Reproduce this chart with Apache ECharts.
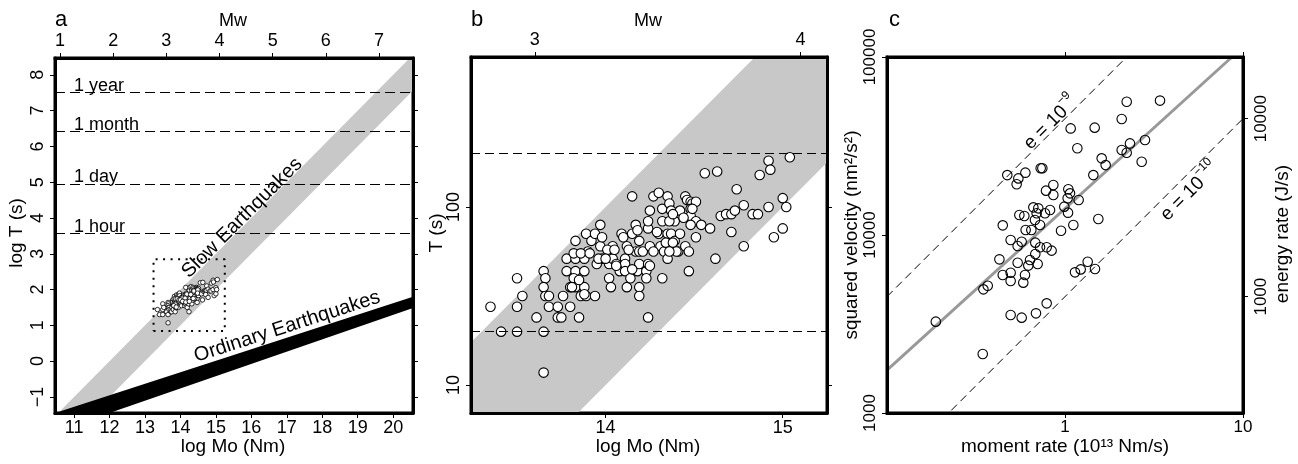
<!DOCTYPE html>
<html><head><meta charset="utf-8">
<script src="https://cdn.jsdelivr.net/npm/echarts@6/dist/echarts.min.js"></script>
<style>html,body{margin:0;padding:0;background:#fff}#c{width:1298px;height:464px}</style>
</head><body><div id="c"></div>
<script>
// ---------- data ----------
// panel b events (also the small cluster in panel a): log10 moment (Nm), log10 duration (s)
const slowLogMo = [13.35,13.41,13.50,13.50,13.50,13.53,13.61,13.65,13.65,13.65,13.66,13.65,13.66,13.68,13.68,13.73,13.73,13.75,13.76,13.80,13.85,13.78,13.78,13.80,13.83,13.83,13.83,13.82,13.83,13.86,13.88,13.88,13.88,13.89,13.94,13.89,13.92,13.94,13.97,13.97,13.98,13.98,13.95,13.90,13.82,13.86,13.85,13.81,13.88,
14.02,14.02,14.03,14.04,14.04,14.06,14.08,14.09,14.10,14.11,14.11,14.11,14.12,14.12,14.14,14.15,14.15,14.17,14.17,14.18,14.19,14.19,14.19,14.19,14.19,14.21,14.23,14.23,14.24,14.24,14.25,14.24,14.24,14.25,14.27,14.30,14.31,14.30,14.32,14.32,14.32,14.33,14.35,14.35,14.36,14.35,14.37,14.37,14.39,14.39,14.41,14.42,14.42,14.45,14.46,14.48,14.49,14.51,14.48,14.48,14.45,14.47,14.47,14.51,14.51,14.54,14.59,
14.18,14.36,14.44,14.01,14.05,14.13,14.27,14.34,14.38,14.40,13.91,13.96,14.00,14.06,14.15,14.25,14.36,14.38,14.49,14.48,14.29,
14.56,14.63,14.62,14.65,14.68,14.71,14.73,14.71,14.74,14.78,14.78,14.83,14.86,14.87,14.92,14.93,14.92,14.95,15.00,15.00,15.02,15.04];
const slowLogT = [1.44,1.30,1.30,1.44,1.60,1.50,1.38,1.30,1.07,1.64,1.60,1.55,1.50,1.50,1.44,1.44,1.38,1.38,1.50,1.44,1.38,1.71,1.64,1.55,1.81,1.71,1.64,1.60,1.55,1.50,1.71,1.64,1.55,1.50,1.50,1.85,1.81,1.85,1.90,1.78,1.83,1.71,1.68,1.75,1.74,1.74,1.59,1.55,1.51,
1.68,1.60,1.55,1.78,1.71,1.68,1.64,1.85,1.83,1.71,1.68,1.64,1.78,1.55,1.60,2.06,1.85,1.90,1.75,1.64,1.81,1.68,1.55,1.50,1.75,1.75,1.64,1.60,1.38,1.68,1.78,1.88,1.92,1.98,2.06,2.08,1.78,1.85,1.60,1.92,1.99,1.75,2.06,1.85,2.02,1.71,1.98,1.85,1.92,1.81,1.75,1.98,1.85,2.06,2.04,2.03,2.02,2.03,1.99,1.95,1.78,1.75,1.64,1.92,1.83,1.90,1.88,
1.87,1.92,1.94,1.76,1.76,1.76,1.75,1.80,1.80,1.75,1.74,1.71,1.71,1.67,1.65,1.67,1.75,1.96,1.99,1.90,1.86,
2.19,2.20,1.71,1.95,1.96,1.96,1.98,1.86,2.10,2.01,1.78,1.96,1.96,2.18,2.26,2.21,2.00,1.83,2.05,1.88,2.00,2.28];

// panel c: moment rate (1e13 Nm/s) and squared velocity (nm^2/s^2)
const rateMoment = [0.188,0.345,0.348,0.368,0.428,0.447,0.447,0.474,0.495,0.495,0.495,0.495,0.535,0.547,0.542,0.542,0.554,0.591,0.571,0.571,0.583,0.596,0.599,0.601,0.622,0.636,0.647,0.664,0.678,0.681,0.681,0.687,0.693,0.702,0.708,0.724,0.724,0.730,0.746,0.782,0.789,0.789,0.772,0.824,0.841,0.860,0.860,0.950,0.991,1.035,1.04,1.044,1.067,1.076,1.114,1.138,1.173,1.193,1.225,1.341,1.443,1.468,1.474,1.539,1.607,1.692,2.082,2.082,2.221,2.221,2.318,2.696,2.815,3.418];
const rateSqVel = [3260,2145,4950,5190,7300,11330,5960,21700,9370,3555,6140,5520,19270,20800,8670,6990,12950,12790,9170,3434,5400,5960,22400,10670,6730,7240,10670,14300,12140,9060,7820,3630,13240,6870,14120,11380,8530,23700,23700,17750,8530,4130,13240,13820,8170,16780,19100,10570,14430,16070,13350,18060,17140,39700,11380,6170,30700,15730,6410,7080,21700,40100,6440,12300,26950,24700,44800,30000,56100,29000,32700,25800,34200,56900];

// reference lines / bands (log Mo, log T)
const hourLinesLogT = [7.50, 6.41, 4.94, 3.56];
const hourLineNames = ['1 year', '1 month', '1 day', '1 hour'];
const thresholdT = [20, 200];
const slowBandUpper = [[10.0, -2.0], [21.0, 9.0]];
const slowBandLower = [[10.0, -3.0], [21.0, 8.0]];
const ordBandUpper = [[10.3, -1.50], [20.6, 1.81]];
const ordBandLower = [[11.85, -1.50], [20.6, 1.50]];
const zoomBoxLogMo = [13.24, 15.25];
const zoomBoxLogT = [0.843, 2.843];
const bandNames = ['Slow Earthquakes', 'Ordinary Earthquakes'];
const bandLabelPos = [[15.74, 4.0], [17.01, 0.96]];
const bandLabelRot = [45, 18];
// panel c lines
const fitLine = [[0.1, 1740], [8.67, 100000]];
const eLine9 = [[0.1, 1000], [10, 100000]];
const eLine10 = [[0.1, 100], [10, 10000]];
const eLabelPos = [[0.813, 43600], [4.91, 17900]];
const eLabelSup = ['\u22129', '\u221210'];

// axes ranges & ticks
const aLogMoRange = [10.46, 20.56];
const aLogTRange = [-1.45, 8.47];
const aXTicks = [11,12,13,14,15,16,17,18,19,20];
const aMwTicks = [1,2,3,4,5,6,7];
const aYTicks = [-1,0,1,2,3,4,5,6,7,8];
const bXTicks = [14, 15];
const bMwTicks = [3, 4];
const bYTicks = [10, 100];
const cXRange = [0.1, 10];
const cXTicks = [1, 10];
const cYRange = [1000, 100000];
const cYTicks = [1000, 10000, 100000];
const cY2Range = [222, 22200];
const cY2Ticks = [1000, 10000];

// ---------- chart ----------
const F = 'Liberation Sans';
const mw = m => (m - 9.1) / 1.5;
const fmt = v => { const r = Math.round(v * 1000) / 1000; return r < 0 ? '\u2212' + Math.abs(r) : String(r); };

function mkAxis(o) {
  const a = {
    type: o.type || 'value', gridIndex: o.grid, position: o.pos, min: o.min, max: o.max, z: 10,
    axisLine: {show: true, onZero: false, lineStyle: {color: '#000', width: 3}},
    axisTick: {show: true, inside: false, length: 5, lineStyle: {color: '#000', width: 1}, customValues: o.ticks},
    axisLabel: o.labels ? {show: true, customValues: o.ticks, formatter: fmt, fontFamily: F, fontSize: o.fs || 18,
      color: '#000', margin: o.margin, rotate: o.rotate || 0} : {show: false},
    splitLine: {show: false}, minorTick: {show: false}, minorSplitLine: {show: false}
  };
  if (a.type === 'log') a.logBase = 10;
  return a;
}

function bandSeries(xi, yi, upper, lower, color, toY, z) {
  const poly = upper.concat(lower.slice().reverse());
  return {
    type: 'custom', xAxisIndex: xi, yAxisIndex: yi, clip: true, silent: true, z: z,
    data: [[poly[0][0], toY(poly[0][1])]],
    renderItem: (params, api) => ({
      type: 'polygon',
      shape: {points: poly.map(p => api.coord([p[0], toY(p[1])]))},
      style: {fill: color, stroke: null}
    })
  };
}
const idY = v => v;
const powY = v => Math.pow(10, v);

const gridBase = {show: true, borderColor: '#000', borderWidth: 3, backgroundColor: 'transparent'};

const option = {
  animation: false,
  backgroundColor: '#fff',
  grid: [
    Object.assign({left: 55, top: 58, width: 358, height: 355}, gridBase),
    Object.assign({left: 471, top: 57, width: 356, height: 356}, gridBase),
    Object.assign({left: 887, top: 57, width: 356, height: 356}, gridBase)
  ],
  xAxis: [
    mkAxis({grid: 0, pos: 'bottom', min: aLogMoRange[0], max: aLogMoRange[1], ticks: aXTicks, labels: true, margin: 6}),
    mkAxis({grid: 0, pos: 'top', min: mw(aLogMoRange[0]), max: mw(aLogMoRange[1]), ticks: aMwTicks, labels: true, margin: 8}),
    mkAxis({grid: 1, pos: 'bottom', min: zoomBoxLogMo[0], max: zoomBoxLogMo[1], ticks: bXTicks, labels: true, margin: 6}),
    mkAxis({grid: 1, pos: 'top', min: mw(zoomBoxLogMo[0]), max: mw(zoomBoxLogMo[1]), ticks: bMwTicks, labels: true, margin: 8}),
    mkAxis({grid: 2, type: 'log', pos: 'bottom', min: cXRange[0], max: cXRange[1], ticks: cXTicks, labels: true, fs: 17, margin: 6}),
    mkAxis({grid: 2, type: 'log', pos: 'top', min: cXRange[0], max: cXRange[1], ticks: cXTicks, labels: false})
  ],
  yAxis: [
    mkAxis({grid: 0, pos: 'left', min: aLogTRange[0], max: aLogTRange[1], ticks: aYTicks, labels: true, rotate: 90, margin: 8}),
    mkAxis({grid: 0, pos: 'right', min: aLogTRange[0], max: aLogTRange[1], ticks: aYTicks, labels: false}),
    mkAxis({grid: 1, type: 'log', pos: 'left', min: Math.pow(10, zoomBoxLogT[0]), max: Math.pow(10, zoomBoxLogT[1]), ticks: bYTicks, labels: true, rotate: 90, margin: 8}),
    mkAxis({grid: 1, type: 'log', pos: 'right', min: Math.pow(10, zoomBoxLogT[0]), max: Math.pow(10, zoomBoxLogT[1]), ticks: bYTicks, labels: false}),
    mkAxis({grid: 2, type: 'log', pos: 'left', min: cYRange[0], max: cYRange[1], ticks: cYTicks, labels: true, rotate: 90, fs: 17, margin: 8}),
    mkAxis({grid: 2, type: 'log', pos: 'right', min: cY2Range[0], max: cY2Range[1], ticks: cY2Ticks, labels: true, rotate: 90, fs: 17, margin: 10})
  ],
  series: [
    // ---- panel a ----
    bandSeries(0, 0, slowBandUpper, slowBandLower, '#c8c8c8', idY, 1),
    bandSeries(0, 0, ordBandUpper, ordBandLower, '#000', idY, 2),
    {
      type: 'line', xAxisIndex: 0, yAxisIndex: 0, data: [], z: 2, silent: true,
      markLine: {
        silent: true, symbol: ['none', 'none'], animation: false,
        lineStyle: {color: '#000', width: 1, type: [10, 5]},
        label: {show: true, position: 'insideStartTop', formatter: '{b}', color: '#000', fontFamily: F, fontSize: 18, distance: [19, -2]},
        data: hourLinesLogT.map((v, i) => ({yAxis: v, name: hourLineNames[i]}))
      }
    },
    {
      type: 'line', xAxisIndex: 0, yAxisIndex: 0, z: 2, silent: true, symbol: 'none',
      lineStyle: {color: '#000', width: 2, type: [2, 5.5]},
      data: [[zoomBoxLogMo[0], zoomBoxLogT[0]], [zoomBoxLogMo[1], zoomBoxLogT[0]], [zoomBoxLogMo[1], zoomBoxLogT[1]],
             [zoomBoxLogMo[0], zoomBoxLogT[1]], [zoomBoxLogMo[0], zoomBoxLogT[0]]]
    },
    {
      type: 'scatter', xAxisIndex: 0, yAxisIndex: 0, z: 3, silent: true, symbolSize: 4.5,
      itemStyle: {color: '#fff', borderColor: '#000', borderWidth: 0.8, opacity: 1},
      data: slowLogMo.map((m, i) => [m, slowLogT[i]])
    },
    {
      type: 'scatter', xAxisIndex: 0, yAxisIndex: 0, z: 5, silent: true, symbolSize: 1,
      itemStyle: {color: 'rgba(0,0,0,0)', opacity: 1},
      label: {show: true, position: 'inside', fontFamily: F, fontSize: 20, color: '#000', opacity: 1, align: 'center', verticalAlign: 'middle'},
      data: bandNames.map((n, i) => ({value: bandLabelPos[i], label: {rotate: bandLabelRot[i], formatter: n}}))
    },
    // ---- panel b ----
    bandSeries(2, 2, slowBandUpper, slowBandLower, '#c8c8c8', powY, 1),
    {
      type: 'line', xAxisIndex: 2, yAxisIndex: 2, data: [], z: 2, silent: true,
      markLine: {
        silent: true, symbol: ['none', 'none'], animation: false,
        lineStyle: {color: '#000', width: 1, type: [9, 5]}, label: {show: false},
        data: thresholdT.map(v => ({yAxis: v}))
      }
    },
    {
      type: 'scatter', xAxisIndex: 2, yAxisIndex: 2, z: 3, silent: true, symbolSize: 9.5,
      itemStyle: {color: '#fff', borderColor: '#000', borderWidth: 1.1, opacity: 1},
      data: slowLogMo.map((m, i) => [m, Math.pow(10, slowLogT[i])])
    },
    // ---- panel c ----
    {
      type: 'line', xAxisIndex: 4, yAxisIndex: 5, z: 2, silent: true, symbol: 'none', clip: true,
      lineStyle: {color: '#000', width: 1, type: [8, 5]}, data: eLine9
    },
    {
      type: 'line', xAxisIndex: 4, yAxisIndex: 5, z: 2, silent: true, symbol: 'none', clip: true,
      lineStyle: {color: '#000', width: 1, type: [8, 5]}, data: eLine10
    },
    {
      type: 'line', xAxisIndex: 4, yAxisIndex: 4, z: 2, silent: true, symbol: 'none', clip: true,
      lineStyle: {color: '#999', width: 3}, data: fitLine
    },
    {
      type: 'scatter', xAxisIndex: 4, yAxisIndex: 4, z: 3, silent: true, symbolSize: 9.5,
      itemStyle: {color: 'rgba(255,255,255,0)', borderColor: '#000', borderWidth: 1.1, opacity: 1},
      data: rateMoment.map((m, i) => [m, rateSqVel[i]])
    },
    {
      type: 'scatter', xAxisIndex: 4, yAxisIndex: 4, z: 5, silent: true, symbolSize: 1,
      itemStyle: {color: 'rgba(0,0,0,0)', opacity: 1},
      label: {show: true, position: 'inside', rotate: 45, align: 'center', verticalAlign: 'middle', opacity: 1,
        rich: {m: {fontFamily: F, fontSize: 19, color: '#000', verticalAlign: 'bottom', lineHeight: 24},
               s: {fontFamily: F, fontSize: 12, color: '#000', verticalAlign: 'top', lineHeight: 24}}},
      data: eLabelPos.map((p, i) => ({value: p, label: {formatter: '{m|e = 10}{s|' + eLabelSup[i] + '}'}}))
    }
  ],
  graphic: [
    {type: 'text', x: 55, y: 20, silent: true, style: {text: 'a', fontFamily: F, fontSize: 22, fill: '#000', align: 'left', verticalAlign: 'middle'}},
    {type: 'text', x: 471, y: 20, silent: true, style: {text: 'b', fontFamily: F, fontSize: 22, fill: '#000', align: 'left', verticalAlign: 'middle'}},
    {type: 'text', x: 889, y: 20, silent: true, style: {text: 'c', fontFamily: F, fontSize: 22, fill: '#000', align: 'left', verticalAlign: 'middle'}},
    {type: 'text', x: 233, y: 21, silent: true, style: {text: 'Mw', fontFamily: F, fontSize: 18, fill: '#000', align: 'center', verticalAlign: 'middle'}},
    {type: 'text', x: 648, y: 21, silent: true, style: {text: 'Mw', fontFamily: F, fontSize: 18, fill: '#000', align: 'center', verticalAlign: 'middle'}},
    {type: 'text', x: 233, y: 447, silent: true, style: {text: 'log Mo (Nm)', fontFamily: F, fontSize: 19, fill: '#000', align: 'center', verticalAlign: 'middle'}},
    {type: 'text', x: 648, y: 447, silent: true, style: {text: 'log Mo (Nm)', fontFamily: F, fontSize: 19, fill: '#000', align: 'center', verticalAlign: 'middle'}},
    {type: 'text', x: 1065, y: 447, silent: true, style: {text: 'moment rate (10\u00b9\u00b3 Nm/s)', fontFamily: F, fontSize: 19, fill: '#000', align: 'center', verticalAlign: 'middle'}},
    {type: 'text', x: 17, y: 233, rotation: Math.PI / 2, silent: true, style: {text: 'log T (s)', fontFamily: F, fontSize: 19, fill: '#000', align: 'center', verticalAlign: 'middle'}},
    {type: 'text', x: 437, y: 233, rotation: Math.PI / 2, silent: true, style: {text: 'T (s)', fontFamily: F, fontSize: 19, fill: '#000', align: 'center', verticalAlign: 'middle'}},
    {type: 'text', x: 852, y: 235, rotation: Math.PI / 2, silent: true, style: {text: 'squared velocity (nm\u00b2/s\u00b2)', fontFamily: F, fontSize: 19, fill: '#000', align: 'center', verticalAlign: 'middle'}},
    {type: 'text', x: 1283, y: 234, rotation: Math.PI / 2, silent: true, style: {text: 'energy rate (J/s)', fontFamily: F, fontSize: 19, fill: '#000', align: 'center', verticalAlign: 'middle'}}
  ]
};
const chart = echarts.init(document.getElementById('c'));
chart.setOption(option);
</script></body></html>
